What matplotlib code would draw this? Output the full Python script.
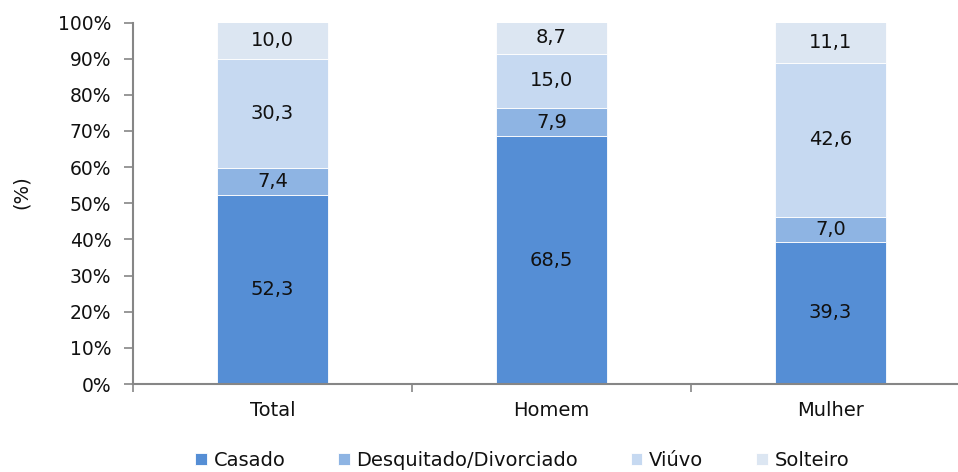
import numpy as np
import matplotlib.pyplot as plt

categorias = ['Total', 'Homem', 'Mulher']
series = ['Casado', 'Desquitado/Divorciado', 'Viúvo', 'Solteiro']
casado = [52.3, 68.5, 39.3]
desquitado = [7.4, 7.9, 7.0]
viuvo = [30.3, 15.0, 42.6]
solteiro = [10.0, 8.7, 11.1]
cores = ['#558ED5', '#8EB4E3', '#C6D9F1', '#DCE6F2']

plt.rcParams['font.family'] = ['DejaVu Sans']

fig = plt.figure(figsize=(9.58, 4.72), dpi=100)
ax = fig.add_axes([133 / 958, 1 - 384 / 472, 837 / 958, (384 - 22.5) / 472])

x = np.arange(len(categorias))
base = np.zeros(len(categorias))
for nome, vals, cor in zip(series, [casado, desquitado, viuvo, solteiro], cores):
    vals = np.array(vals)
    ax.bar(x, vals, width=0.4, bottom=base, color=cor, label=nome,
           edgecolor='white', linewidth=0.6)
    for xi, b, v in zip(x, base, vals):
        ax.text(xi, b + v / 2, f'{v:.1f}'.replace('.', ','), ha='center',
                va='center', fontsize=14, color='#111111')
    base += vals

ax.set_xlim(-0.5, 2.5)
ax.set_ylim(0, 100)
ax.set_yticks(np.arange(0, 101, 10))
ax.set_yticklabels([f'{v}%' for v in range(0, 101, 10)], fontsize=13.5,
                   color='#111111')
ax.set_xticks([-0.5, 0.5, 1.5, 2.5])
ax.set_xticklabels([])
ax.tick_params(axis='x', length=6, color='#868686', width=1.2)
ax.tick_params(axis='y', length=6.5, color='#868686', width=1.2, pad=9)
for xi, c in zip(x, categorias):
    ax.text(xi, -4.8, c, ha='center', va='top', fontsize=14, color='#111111')

for s in ['top', 'right']:
    ax.spines[s].set_visible(False)
for s in ['left', 'bottom']:
    ax.spines[s].set_color('#868686')
    ax.spines[s].set_linewidth(1.5)

ax.set_ylabel('(%)', fontsize=14, color='#111111')
ax.yaxis.set_label_coords(-0.122, 0.53)

fig.legend(loc='lower center', bbox_to_anchor=(0.545, -0.032), ncol=4,
           frameon=False, fontsize=14, handlelength=0.6, handleheight=0.6,
           handletextpad=0.35, columnspacing=2.7, labelcolor='#111111')

fig.savefig('out.png', dpi=100)
